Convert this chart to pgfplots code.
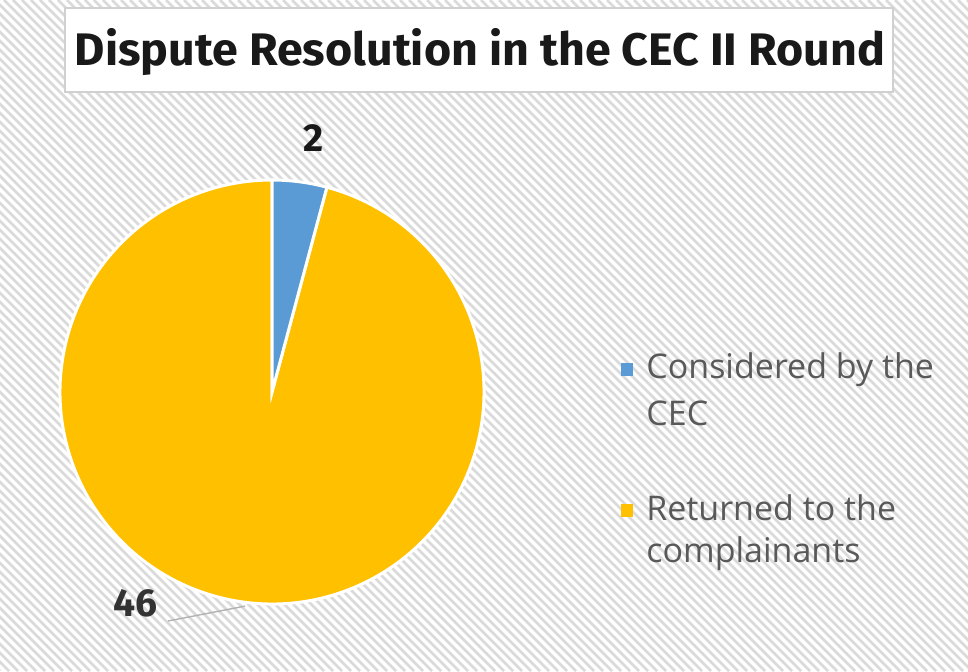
\documentclass[border=0pt]{standalone}
\usepackage{pgfplots}
\pgfplotsset{compat=1.18}
\usepackage{pgfplotstable}
\usepackage{fontspec}
\setmainfont{Open Sans}
\newfontfamily\titlefont{Fira Sans}
\definecolor{cblue}{HTML}{5B9BD5}
\definecolor{cyellow}{HTML}{FFC000}
\definecolor{hatch}{HTML}{DADADA}
\definecolor{legtext}{HTML}{595959}
\definecolor{boxline}{HTML}{D0D0D0}

% slices: considered by the CEC, returned to the complainants
\pgfplotstableread{
value
2
46
}\piedata

\begin{document}
\begin{tikzpicture}[x=0.5pt,y=0.5pt]
\useasboundingbox (0,0) rectangle (968,671);
\fill[white] (0,0) rectangle (968,671);
% hatched background
\begin{scope}
\clip (0,0) rectangle (968,671);
\foreach \i in {-680,-671,...,975}
  \draw[hatch, line width=1.4pt] (\i,671) -- ({\i+671},0);
\end{scope}

% title box
\draw[fill=white, draw=boxline, line width=1pt] (65,663) rectangle (893,579);
\node[anchor=base, inner sep=0pt, text=black!90] at (480,605)
  {\resizebox{405pt}{18.5pt}{\titlefont\bfseries Dispute Resolution in the CEC II Round}};

\pgfplotstablegetelem{0}{value}\of\piedata \pgfmathtruncatemacro\va{\pgfplotsretval}
\pgfplotstablegetelem{1}{value}\of\piedata \pgfmathtruncatemacro\vb{\pgfplotsretval}
\pgfmathsetmacro\tot{\va+\vb}
\pgfmathsetmacro\aB{90-360*\va/\tot}

\begin{axis}[
  at={(136pt,139.5pt)}, anchor=center,
  width=212pt, height=212pt, scale only axis,
  hide axis, clip=false,
  xmin=-1, xmax=1, ymin=-1, ymax=1,
]
\fill[cyellow, draw=white, line width=1.5pt]
  (axis cs:0,0) -- (axis cs:{cos(\aB)},{sin(\aB)})
  arc[start angle=\aB, end angle=-270, radius=1] -- cycle;
\fill[cblue, draw=white, line width=1.5pt]
  (axis cs:0,0) -- (axis cs:0,1)
  arc[start angle=90, end angle=\aB, radius=1] -- cycle;
\draw[gray!60, line width=0.7pt] (axis cs:-0.49,-1.08) -- (axis cs:-0.127,-1.01);
\node[font=\titlefont\bfseries\fontsize{19.5}{20}\selectfont, text=black!90]
  at (axis cs:0.198,1.198) {\va};
\node[font=\titlefont\bfseries\fontsize{19.5}{20}\selectfont, text=black!80]
  at (axis cs:-0.642,-0.995) {\vb};
\end{axis}

% legend
\begin{scope}[font=\fontsize{17}{22.5}\selectfont, text=legtext]
\fill[cblue] (621,295) rectangle (633,308);
\node[anchor=base west, inner sep=0pt] at (646,293) {Considered by the};
\node[anchor=base west, inner sep=0pt] at (646,246) {CEC};
\fill[cyellow] (621,154) rectangle (633,167);
\node[anchor=base west, inner sep=0pt] at (646,151) {Returned to the};
\node[anchor=base west, inner sep=0pt] at (646,109) {complainants};
\end{scope}
\end{tikzpicture}
\end{document}
